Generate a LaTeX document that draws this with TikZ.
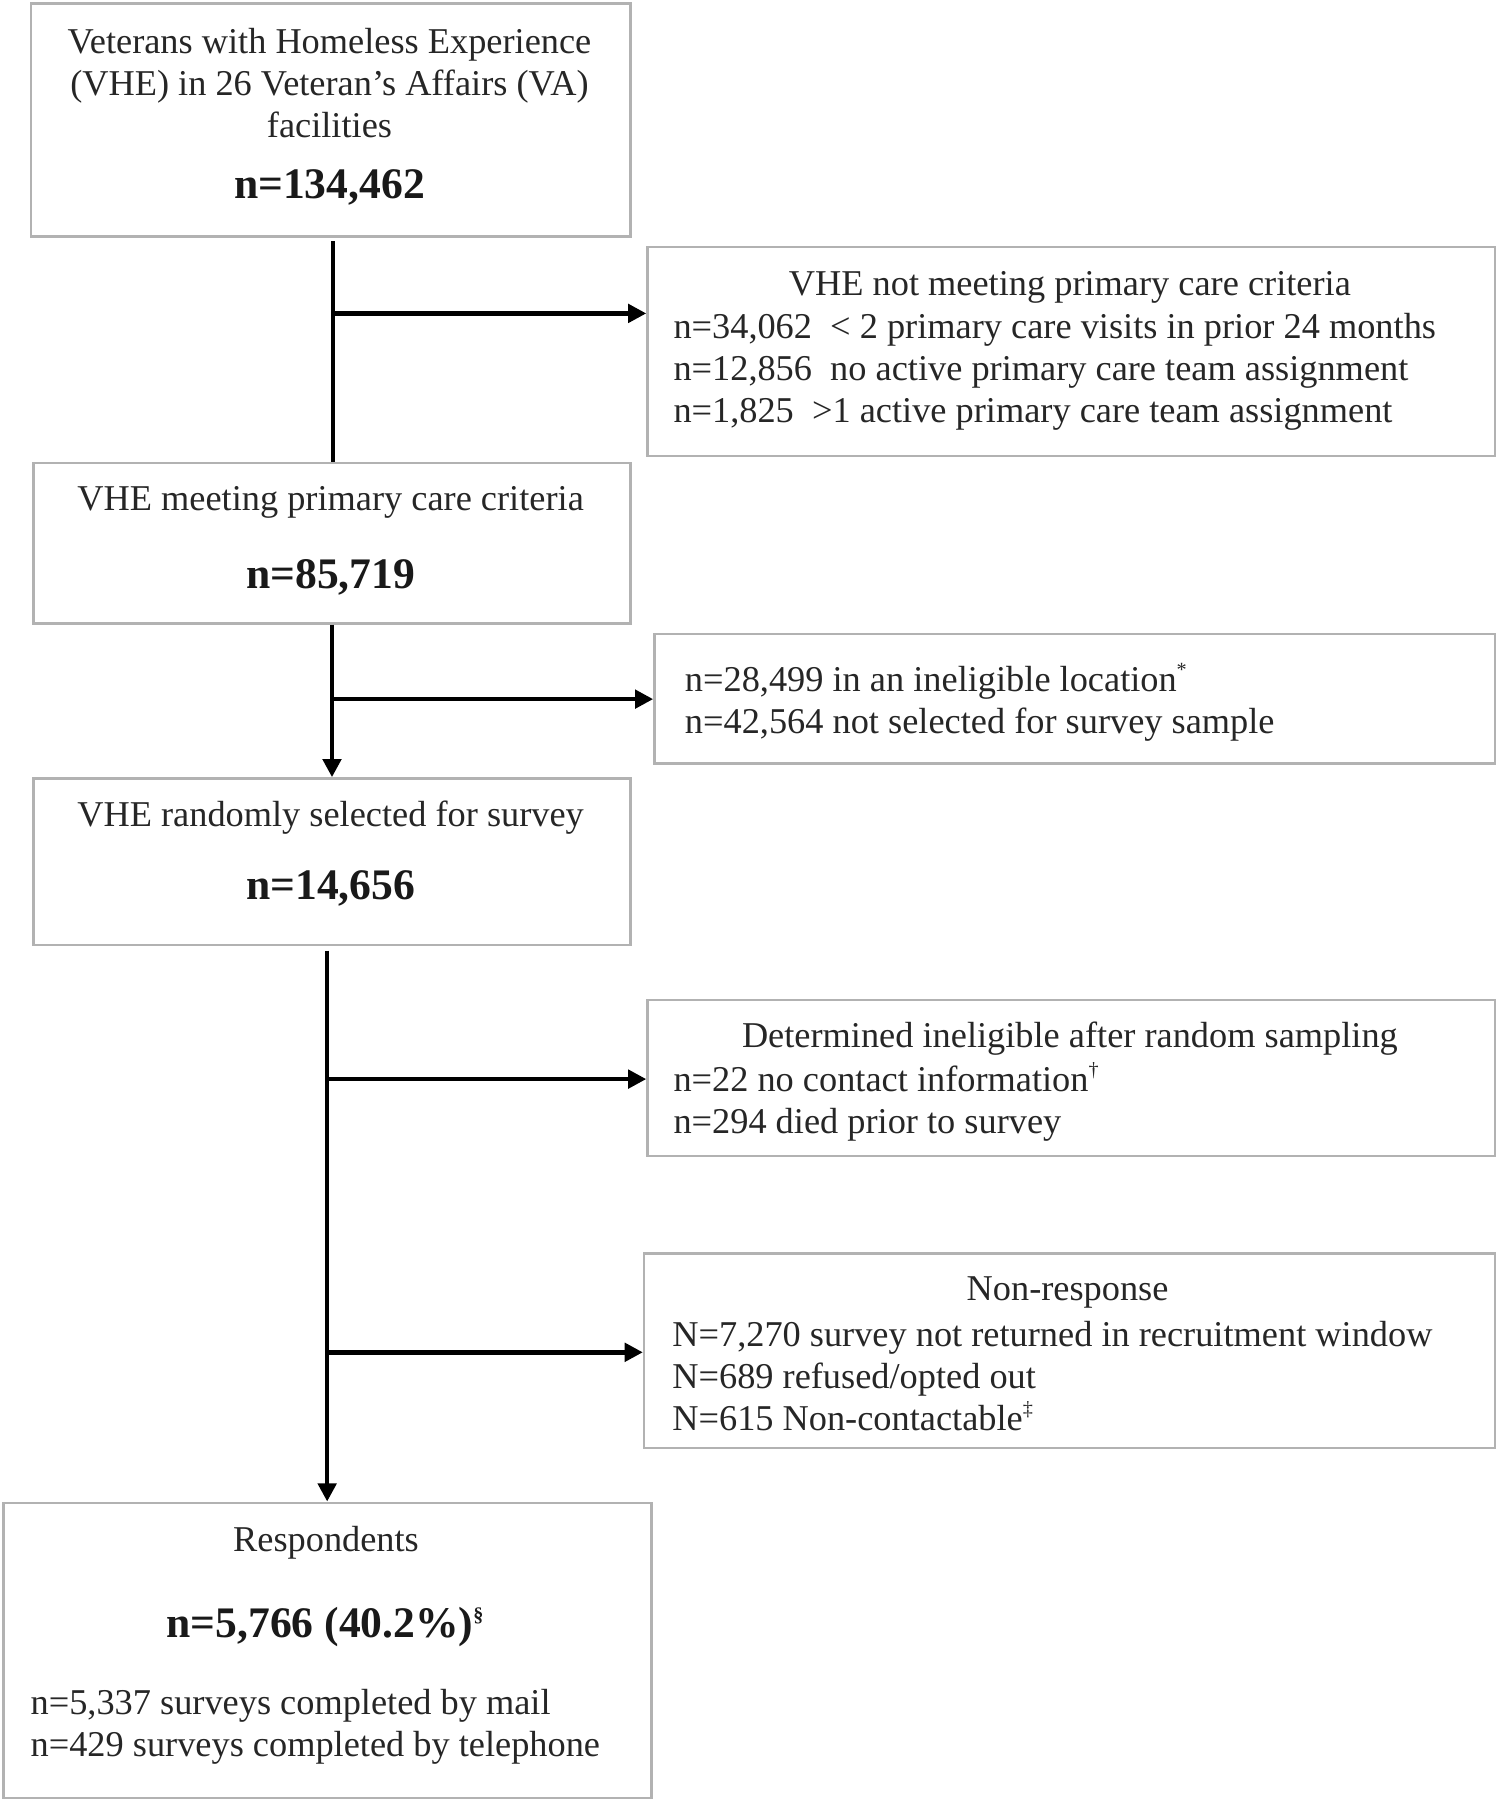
\documentclass[tikz,border=0pt]{standalone}
\usepackage{fontspec}
\setmainfont{Liberation Serif}
\usetikzlibrary{calc, arrows.meta}

\newcommand{\tinysup}[1]{\textsuperscript{\fontsize{5}{6}\selectfont #1}}

\tikzset{
	frame/.style={draw=gray!60, line width=0.6pt, anchor=north west, inner sep=0pt},
	txt/.style={inner sep=0pt, yshift=-0.03cm, text=black!85, font=\fontsize{9}{10.4}\selectfont},
	num/.style={inner sep=0pt, yshift=-0.03cm, text=black!90, font=\fontsize{10.8}{13}\selectfont\bfseries},
	flow/.style={line width=1.1pt, black},
	flowarr/.style={flow, -{Triangle[length=4.5pt, width=4.5pt]}}
}

\begin{document}
\begin{tikzpicture}[x=0.01cm, y=-0.01cm]
	\useasboundingbox (0,0) rectangle (1306,1568);
	
	% main column
	\node[frame, minimum width=5.22cm, minimum height=2.03cm] (vhe) at (26,2) {};
	\node[frame, minimum width=5.20cm, minimum height=1.40cm] (meet) at (28,402) {};
	\node[frame, minimum width=5.20cm, minimum height=1.45cm] (sel) at (28,677) {};
	\node[frame, minimum width=5.64cm, minimum height=2.57cm] (resp) at (2,1308) {};
	
	% side boxes
	\node[frame, minimum width=7.38cm, minimum height=1.82cm] (notmeet) at (563,214) {};
	\node[frame, minimum width=7.32cm, minimum height=1.13cm] (inel) at (569,551) {};
	\node[frame, minimum width=7.38cm, minimum height=1.36cm] (det) at (563,870) {};
	\node[frame, minimum width=7.41cm, minimum height=1.69cm] (nonr) at (560,1091) {};
	
	% texts
	\node[txt, align=center] (vhetxt) at (287,69) {Veterans with Homeless Experience\\(VHE) in 26 Veteran's Affairs (VA)\\facilities};
	\node[num] (vhen) at (287,160) {n=134,462};
	
	\node[txt] (meettxt) at (288,435) {VHE meeting primary care criteria};
	\node[num] (meetn) at (288,500) {n=85,719};
	
	\node[txt] (seltxt) at (288,709) {VHE randomly selected for survey};
	\node[num] (seln) at (288,771) {n=14,656};
	
	\node[txt] (resptxt) at (284,1341) {Respondents};
	\node[num] (respn) at (284,1414) {n=5,766 (40.2\%)\tinysup{\S}};
	\node[txt, align=left, anchor=west] (respl) at (26,1501) {n=5,337 surveys completed by mail\\n=429 surveys completed by telephone};
	
	\node[txt] (notmeett) at (932,247) {VHE not meeting primary care criteria};
	\node[txt, align=left, anchor=west] (notmeetl) at (586,321) {n=34,062~~< 2 primary care visits in prior 24 months\\n=12,856~~no active primary care team assignment\\n=1,825~~>1 active primary care team assignment};
	
	\node[txt, align=left, anchor=west] (inell) at (596,609) {n=28,499 in an ineligible location\tinysup{*}\\n=42,564 not selected for survey sample};
	
	\node[txt] (dett) at (932,902) {Determined ineligible after random sampling};
	\node[txt, align=left, anchor=west] (detl) at (586,957) {n=22 no contact information\tinysup{\textdagger}\\n=294 died prior to survey};
	
	\node[txt] (nonrt) at (930,1123) {Non-response};
	\node[txt, align=left, anchor=west] (nonrl) at (585,1196) {N=7,270 survey not returned in recruitment window\\N=689 refused/opted out\\N=615 Non-contactable\tinysup{\textdaggerdbl}};
	
	% connectors
	\coordinate (s1) at (290,210);
	\coordinate (j1) at (290,273);
	\draw[flow] (s1) -- (s1 |- meet.north);
	\draw[flowarr] (j1) -- (j1 -| notmeet.west);
	
	\coordinate (j2) at (288,609);
	\draw[flowarr] (meet.south) -- (sel.north);
	\draw[flowarr] (j2) -- (j2 -| inel.west);
	
	\coordinate (s3) at (285,828);
	\coordinate (j3) at (285,940);
	\coordinate (j4) at (285,1178);
	\draw[flowarr] (s3) -- (s3 |- resp.north);
	\draw[flowarr] (j3) -- (j3 -| det.west);
	\draw[flowarr] (j4) -- (j4 -| nonr.west);
\end{tikzpicture}
\end{document}
